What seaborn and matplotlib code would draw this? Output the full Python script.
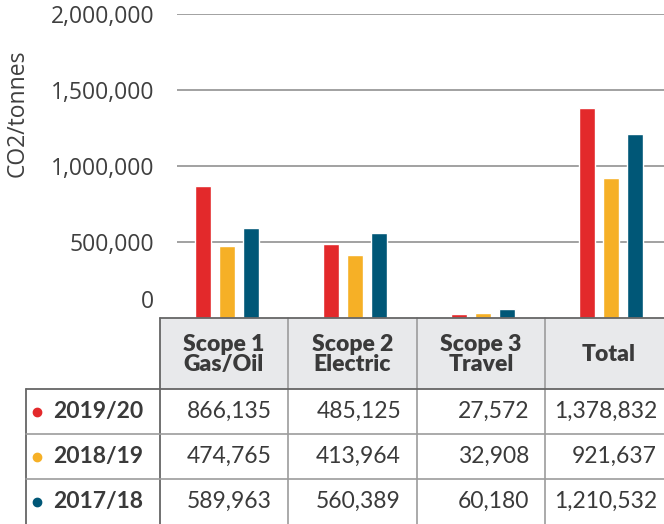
import pandas as pd
import matplotlib
matplotlib.use("Agg")
import matplotlib.pyplot as plt
from matplotlib.patches import Rectangle
import seaborn as sns

# ================= DATA =================
scopes = ["Scope 1\nGas/Oil", "Scope 2\nElectric", "Scope 3\nTravel", "Total"]
years = ["2019/20", "2018/19", "2017/18"]
vals_2019 = [866135, 485125, 27572, 1378832]
vals_2018 = [474765, 413964, 32908, 921637]
vals_2017 = [589963, 560389, 60180, 1210532]
colors = ["#e3292b", "#f6b026", "#005777"]
y_ticks = [500000, 1000000, 1500000, 2000000]

rows = []
for yr, vals in zip(years, [vals_2019, vals_2018, vals_2017]):
    for sc, v in zip(scopes, vals):
        rows.append({"scope": sc, "year": yr, "co2": v})
df = pd.DataFrame(rows)

# ================= LAYOUT (pixels) =================
W, H = 664, 524
def fx(px): return px / W
def fy(py): return 1 - py / H

sns.set_style("white")
plt.rcParams["font.family"] = ["Open Sans", "DejaVu Sans"]

fig = plt.figure(figsize=(W / 100, H / 100), dpi=100)

# --- barras ---
ax = fig.add_axes([fx(177), fy(318), fx(664) - fx(177), fy(14) - fy(318)])
sns.barplot(data=df, x="scope", y="co2", hue="year", hue_order=years,
            palette=colors, width=0.5625, gap=0.333, saturation=1,
            legend=False, ax=ax)
ax.set_xlim(-0.3906, 3.414)
ax.set_ylim(0, 2000000)
ax.set_yticks(y_ticks)
ax.set_yticklabels([f"{t:,}" for t in y_ticks], fontsize=16.5, color="#3f3f3f")
ax.tick_params(axis="y", length=0, pad=16.5)
ax.set_xticks([])
ax.set_xlabel("")
ax.set_ylabel("")
ax.yaxis.grid(True, color="#9a9a9a", lw=1.3)
ax.set_axisbelow(True)
sns.despine(ax=ax, left=True, bottom=True, right=True, top=True)
# el "0" va algo por encima de la base, como en el original
ax.annotate("0", xy=(0, 0), xycoords=("axes fraction", "data"),
            xytext=(-23, 16), textcoords="offset pixels",
            ha="right", va="center", fontsize=16.5, color="#3f3f3f")
fig.text(fx(18), fy(113), "CO2/tonnes", rotation=90, ha="center", va="center",
         fontsize=16.5, color="#3f3f3f")

# --- tabla ---
tax = fig.add_axes([0, 0, 1, 1])
tax.set_xlim(0, W)
tax.set_ylim(H, 0)
tax.axis("off")
tax.patch.set_alpha(0)

col_edges = [26, 160, 288, 417, 545, 673]
row_edges = [318, 389, 434, 479, 524]
dark, light = "#666666", "#9c9c9c"
tfont = ["Lato", "DejaVu Sans"]

# cabecera
for j in range(1, 5):
    tax.add_patch(Rectangle((col_edges[j], row_edges[0]),
                            col_edges[j + 1] - col_edges[j], row_edges[1] - row_edges[0],
                            facecolor="#e8e9eb", edgecolor="none"))
    cx = (col_edges[j] + col_edges[j + 1]) / 2
    tax.text(cx, (row_edges[0] + row_edges[1]) / 2 + 1, scopes[j - 1],
             ha="center", va="center", fontsize=16.5, fontweight="heavy",
             color="#3a3a3a", family=tfont, linespacing=0.9)

# líneas
for j in range(2, 5):
    tax.plot([col_edges[j]] * 2, [row_edges[0], H], color=light, lw=1.2)
tax.plot([col_edges[1]] * 2, [row_edges[0], H], color=dark, lw=1.3)
tax.plot([col_edges[0]] * 2, [row_edges[1], H], color=dark, lw=1.3)
tax.plot([col_edges[1], col_edges[-1]], [row_edges[0]] * 2, color=dark, lw=1.3)
tax.plot([col_edges[0], col_edges[-1]], [row_edges[1]] * 2, color=dark, lw=1.3)
for i in range(2, 4):
    tax.plot([col_edges[0], col_edges[-1]], [row_edges[i]] * 2, color=light, lw=1.2)

# filas
for i, (yr, vals, c) in enumerate(zip(years, [vals_2019, vals_2018, vals_2017], colors)):
    cy = (row_edges[i + 1] + row_edges[i + 2]) / 2
    tax.plot([37], [cy], marker="o", markersize=6, color=c, linestyle="none")
    tax.text(53, cy, yr, ha="left", va="center", fontsize=16.5, fontweight="bold",
             color="#3a3a3a", family=tfont)
    for j, v in enumerate(vals):
        tax.text(col_edges[j + 2] - 16, cy, f"{v:,}", ha="right", va="center",
                 fontsize=16.5, color="#3a3a3a", family=tfont)

fig.savefig("out.png", dpi=100)
